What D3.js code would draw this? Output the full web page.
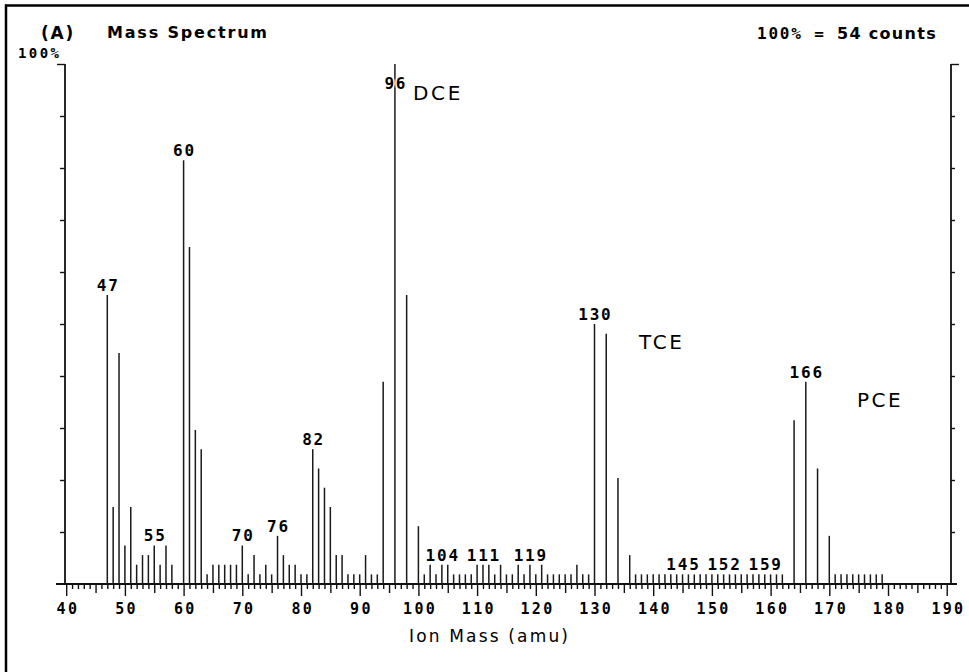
<!DOCTYPE html>
<html>
<head>
<meta charset="utf-8">
<script src="https://cdn.jsdelivr.net/npm/d3@7"></script>
<style>
  body { margin: 0; background: #fff; }
  .mono { font-family: "DejaVu Sans Mono", monospace; font-weight: bold; }
  .sans { font-family: "DejaVu Sans", sans-serif; }
</style>
</head>
<body>
<svg id="chart" width="969" height="672"></svg>
<script>
// ion masses that show a peak, and their raw counts (100% = 54 counts)
const masses = [47, 48, 49, 50, 51, 52, 53, 54, 55, 56, 57, 58,
  60, 61, 62, 63, 64, 65, 66, 67, 68, 69, 70, 71, 72, 73, 74, 75, 76, 77, 78, 79,
  80, 81, 82, 83, 84, 85, 86, 87, 88, 89, 90, 91, 92, 93, 94, 96, 98,
  100, 101, 102, 103, 104, 105, 106, 107, 108, 109, 110, 111, 112, 113, 114, 115,
  116, 117, 118, 119, 120, 121, 122, 123, 124, 125, 126, 127, 128, 129, 130, 132,
  134, 136, 137, 138, 139, 140, 141, 142, 143, 144, 145, 146, 147, 148, 149, 150,
  151, 152, 153, 154, 155, 156, 157, 158, 159, 160, 161, 162, 164, 166, 168, 170,
  171, 172, 173, 174, 175, 176, 177, 178, 179];
const counts = [30, 8, 24, 4, 8, 2, 3, 3, 4, 2, 4, 2,
  44, 35, 16, 14, 1, 2, 2, 2, 2, 2, 4, 1, 3, 1, 2, 1, 5, 3, 2, 2,
  1, 1, 14, 12, 10, 8, 3, 3, 1, 1, 1, 3, 1, 1, 21, 54, 30,
  6, 1, 2, 1, 2, 2, 1, 1, 1, 1, 2, 2, 2, 1, 2, 1,
  1, 2, 1, 2, 1, 2, 1, 1, 1, 1, 1, 2, 1, 1, 27, 26,
  11, 3, 1, 1, 1, 1, 1, 1, 1, 1, 1, 1, 1, 1, 1, 1,
  1, 1, 1, 1, 1, 1, 1, 1, 1, 1, 1, 1, 17, 21, 12, 5,
  1, 1, 1, 1, 1, 1, 1, 1, 1];
const fullScale = 54;

// labelled peaks
const peakLabels = [47, 55, 60, 70, 76, 82, 96, 104, 111, 119, 130, 145, 152, 159, 166];

// compound names and where they sit
const compounds = ["DCE", "TCE", "PCE"];
const compoundMass = [99.1, 137.6, 174.7];
const compoundPct = [93.1, 45.2, 34];

const xTicks = d3.range(40, 191);
const yTicks = d3.range(10, 101, 10);

const svg = d3.select("#chart");
const x = d3.scaleLinear().domain([40, 190]).range([66.2, 946.7]);
const y = d3.scaleLinear().domain([0, 100]).range([584, 64]);
const pct = c => c / fullScale * 100;
const countOf = m => counts[masses.indexOf(m)];

// frame (only top and left edges show)
svg.append("line").attr("x1", 5).attr("x2", 969).attr("y1", 5.5).attr("y2", 5.5)
  .attr("stroke", "#000").attr("stroke-width", 2.5);
svg.append("line").attr("x1", 6).attr("x2", 6).attr("y1", 4.5).attr("y2", 672)
  .attr("stroke", "#000").attr("stroke-width", 2.5);

// x axis ticks below the baseline
const xAxis = svg.append("g")
  .attr("transform", `translate(0,${y(0)})`)
  .call(d3.axisBottom(x).tickValues(xTicks).tickSize(5)
    .tickFormat(d => d % 10 === 0 ? d : ""));
xAxis.select(".domain").remove();
xAxis.selectAll(".tick line")
  .attr("stroke", "#111").attr("stroke-width", 1.4)
  .attr("y2", d => d % 10 === 0 ? 12 : d % 5 === 0 ? 9 : 5);
xAxis.selectAll(".tick text")
  .attr("class", "mono").attr("y", 30).attr("dy", 0)
  .attr("font-size", 15).attr("letter-spacing", 2.3).attr("dx", 1.2)
  .attr("fill", "#000");

// baseline
svg.append("line").attr("x1", 56).attr("x2", 957).attr("y1", y(0)).attr("y2", y(0))
  .attr("stroke", "#111").attr("stroke-width", 1.8);

// left and right % axes
const leftAxis = svg.append("g").attr("transform", `translate(65,0)`)
  .call(d3.axisLeft(y).tickValues(yTicks).tickSize(5).tickFormat(""));
const rightAxis = svg.append("g").attr("transform", `translate(951,0)`)
  .call(d3.axisRight(y).tickValues(yTicks).tickSize(4).tickFormat(""));
[leftAxis, rightAxis].forEach(g => {
  g.select(".domain").remove();
  g.selectAll(".tick line").attr("stroke", "#111").attr("stroke-width", 1.4);
});
leftAxis.selectAll(".tick line").filter(d => d === 100).attr("x2", -8);
rightAxis.selectAll(".tick line").filter(d => d === 100).attr("x2", 8);
[65, 951].forEach(px => {
  svg.append("line").attr("x1", px).attr("x2", px).attr("y1", y(100)).attr("y2", y(0))
    .attr("stroke", "#111").attr("stroke-width", 1.8);
});

// peaks
svg.append("g").selectAll("line")
  .data(masses)
  .join("line")
  .attr("x1", d => x(d)).attr("x2", d => x(d))
  .attr("y1", y(0))
  .attr("y2", (d, i) => y(pct(counts[i])))
  .attr("stroke", "#1a1a1a").attr("stroke-width", 1.5);

// peak labels
svg.append("g").selectAll("text")
  .data(peakLabels)
  .join("text")
  .attr("class", "mono")
  .attr("x", d => x(d) + 0.9)
  .attr("y", d => Math.max(y(pct(countOf(d))) - 4, 89))
  .attr("text-anchor", "middle")
  .attr("font-size", 16).attr("letter-spacing", 1.8)
  .attr("fill", "#000")
  .attr("stroke", "#fff").attr("stroke-width", 3).attr("paint-order", "stroke")
  .text(d => d);

// compound names
svg.append("g").selectAll("text")
  .data(compounds)
  .join("text")
  .attr("class", "sans")
  .attr("x", (d, i) => x(compoundMass[i]))
  .attr("y", (d, i) => y(compoundPct[i]))
  .attr("font-size", 20).attr("letter-spacing", 2.6)
  .attr("fill", "#000")
  .text(d => d);

// header texts
svg.append("text").attr("class", "sans").attr("x", 41).attr("y", 39)
  .attr("font-size", 17).attr("font-weight", "bold").attr("letter-spacing", 1.8)
  .text("(A)");
svg.append("text").attr("class", "sans").attr("x", 107).attr("y", 38)
  .attr("font-size", 16).attr("font-weight", "bold").attr("textLength", 160)
  .attr("lengthAdjust", "spacing").text("Mass Spectrum");
svg.append("text").attr("class", "mono").attr("x", 18).attr("y", 58)
  .attr("font-size", 14).attr("letter-spacing", 2.4).text("100%");
const scaleNote = svg.append("text").attr("x", 757).attr("y", 39);
scaleNote.append("tspan").attr("class", "mono").attr("font-size", 16)
  .attr("letter-spacing", 1.8).text("100% = ");
scaleNote.append("tspan").attr("class", "sans").attr("font-size", 16)
  .attr("font-weight", "bold").attr("letter-spacing", 1.3).text("54 counts");

// axis title
svg.append("text").attr("class", "sans").attr("x", 409).attr("y", 642)
  .attr("font-size", 17).attr("textLength", 159).attr("lengthAdjust", "spacing")
  .text("Ion Mass (amu)");
</script>
</body>
</html>
